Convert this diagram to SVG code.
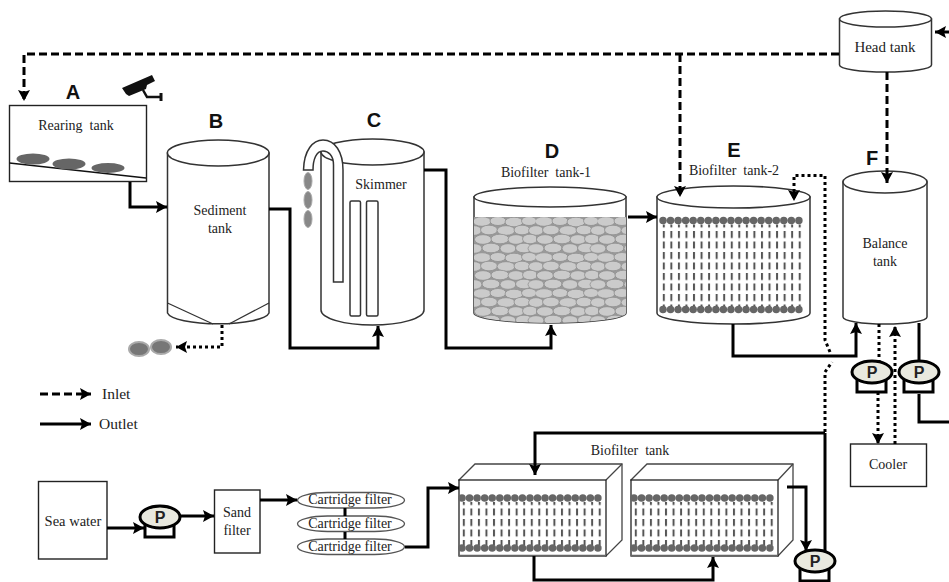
<svg xmlns="http://www.w3.org/2000/svg" width="949" height="582" viewBox="0 0 949 582">
<style>
text{font-family:"Liberation Serif","Times New Roman",serif;font-size:14px;fill:#222;text-anchor:middle;white-space:pre}
.big{font-family:"Liberation Sans",Arial,sans-serif;font-weight:bold;font-size:20px;fill:#111}
.pl{font-family:"Liberation Sans",Arial,sans-serif;font-weight:bold;font-size:16px;fill:#222}
.leg{font-size:15.5px;text-anchor:start}
.tk{fill:#fff;stroke:#333;stroke-width:1.5}
.box{fill:#fff;stroke:#222;stroke-width:1.4}
.pb{fill:#fff;stroke:#000;stroke-width:3}
.pe{fill:#e9e9df;stroke:#000;stroke-width:3}
.sl,.da,.dt{fill:none;stroke:#000;stroke-width:3}
.sl{marker-end:url(#ah)}
.da{stroke-dasharray:8 4;marker-end:url(#ah)}
.dt{stroke-dasharray:3 3;marker-end:url(#ah)}
.plain{marker-end:none}
.fish{fill:#666}
.drip{fill:#888;stroke:#aaa;stroke-width:1}
.mdot{fill:none;stroke:#666;stroke-width:7.5;stroke-linecap:round;stroke-dasharray:0 7.55}
.base{fill:none;stroke:#666;stroke-width:1.5}
</style>
<defs>
<marker id="ah" markerUnits="userSpaceOnUse" markerWidth="13" markerHeight="12" refX="11" refY="6" orient="auto"><path d="M0 0L11 6L0 12L2 6Z" fill="#000"/></marker>
<pattern id="stones" patternUnits="userSpaceOnUse" x="474" y="217" width="62" height="36">
<rect width="62" height="36" fill="#999"/>
<g fill="#cbcbcb" stroke="#888" stroke-width="0.7">
<ellipse cx="8" cy="4.500" rx="9" ry="4.800"/><ellipse cx="24" cy="4" rx="8" ry="4.500"/><ellipse cx="40" cy="5" rx="9" ry="4.800"/><ellipse cx="55" cy="4" rx="7.500" ry="4.500"/>
<ellipse cx="0" cy="13.500" rx="7.500" ry="4.800"/><ellipse cx="15" cy="13" rx="8.500" ry="4.800"/><ellipse cx="32" cy="13.500" rx="9" ry="4.800"/><ellipse cx="48" cy="13" rx="8" ry="4.800"/><ellipse cx="62" cy="13.500" rx="7.500" ry="4.800"/>
<ellipse cx="9" cy="22.500" rx="8.500" ry="4.800"/><ellipse cx="26" cy="22" rx="9" ry="4.800"/><ellipse cx="42" cy="22.500" rx="8" ry="4.800"/><ellipse cx="56" cy="22" rx="7.500" ry="4.800"/>
<ellipse cx="0" cy="31.500" rx="8" ry="4.800"/><ellipse cx="17" cy="31" rx="9" ry="4.800"/><ellipse cx="34" cy="31.500" rx="8" ry="4.800"/><ellipse cx="50" cy="31" rx="8.500" ry="4.800"/><ellipse cx="62" cy="31.500" rx="8" ry="4.800"/>
</g>
</pattern>
<pattern id="strand" patternUnits="userSpaceOnUse" width="7.55" height="10.500">
<rect x="2.800" y="0" width="2" height="7" fill="#555"/>
</pattern>
<clipPath id="stoneclip"><path d="M474 217H626V313A76 10 0 0 1 474 313Z"/></clipPath>
<g id="membrane">
<rect x="2" y="4" width="143" height="84" fill="url(#strand)"/>
<path class="mdot" d="M3 0H146"/>
<path class="mdot" d="M3 89H146"/>
</g>
<g id="membrane-short">
<rect x="0" y="4" width="143" height="43" fill="url(#strand)"/>
<path class="mdot" d="M2 0H145"/>
<path class="mdot" d="M2 50H145"/>
</g>
<g id="pump">
<rect class="pb" x="-15" y="0" width="29" height="20"/>
<ellipse class="pe" cx="0" cy="0" rx="20" ry="11"/>
<text class="pl" x="0" y="6">P</text>
</g>
</defs>

<g id="rearing-tank">
<rect class="box" x="9.500" y="105.500" width="137" height="76"/>
<path d="M9.500 163L146 178" stroke="#111" stroke-width="1.400" fill="none"/>
<ellipse class="fish" cx="33" cy="159" rx="16.500" ry="5.500"/>
<ellipse class="fish" cx="69" cy="164" rx="16.500" ry="5.500"/>
<ellipse class="fish" cx="108" cy="168" rx="16.500" ry="5"/>
<text x="76" y="130">Rearing  tank</text>
<text class="big" x="73" y="99">A</text>
<path d="M122 88L152 75L155 81L147 85L146 89L129 96L126 94Z" fill="#111"/>
<path d="M143 90L147 97H160" fill="none" stroke="#111" stroke-width="2.500"/>
<path d="M161 93V101" fill="none" stroke="#111" stroke-width="3"/>
</g>

<g id="sediment-tank">
<path class="tk" d="M167.500 153V313A51 12 0 0 0 269 313V153Z"/>
<ellipse class="tk" cx="218.200" cy="153" rx="50.800" ry="13"/>
<path d="M167.500 303L213 324M269 303L229 324" fill="none" stroke="#333" stroke-width="1.300"/>
<text x="220" y="215">Sediment</text>
<text x="220" y="233">tank</text>
<text class="big" x="216" y="128">B</text>
</g>

<g id="skimmer">
<path class="tk" d="M321 152V310A51.500 15 0 0 0 424 310V152Z"/>
<ellipse class="tk" cx="372.500" cy="152" rx="51.500" ry="13"/>
<path class="tk" d="M303.500 170C304 150 313 140 323 140C335 140 343 152 343 170V282H333.500V165C333.500 155 328 151 323 151C316 151 313 160 313 170Z"/>
<rect class="tk" x="350" y="201" width="10.500" height="115" rx="1.500"/>
<rect class="tk" x="366.500" y="201" width="11.500" height="115" rx="1.500"/>
<ellipse class="drip" cx="308" cy="181" rx="4" ry="8.500"/>
<ellipse class="drip" cx="308" cy="200" rx="4" ry="8.500"/>
<ellipse class="drip" cx="308" cy="219" rx="4" ry="8.500"/>
<text x="381" y="189">Skimmer</text>
<text class="big" x="374" y="127">C</text>
</g>

<g id="biofilter-1">
<path class="tk" d="M474 197V313A76 10 0 0 0 626 313V197Z"/>
<rect x="474" y="217" width="152" height="108" fill="url(#stones)" clip-path="url(#stoneclip)"/>
<ellipse class="tk" cx="550" cy="197" rx="76" ry="10"/>
<text x="546" y="177">Biofilter  tank-1</text>
<text class="big" x="552" y="158">D</text>
</g>

<g id="biofilter-2">
<path class="tk" d="M657 197V313A76.500 11 0 0 0 810 313V197Z"/>
<ellipse class="tk" cx="733.500" cy="197" rx="76.500" ry="11"/>
<use href="#membrane" x="660" y="220.500"/>
<text x="734" y="175">Biofilter  tank-2</text>
<text class="big" x="734" y="157">E</text>
</g>

<g id="balance-tank">
<path class="tk" d="M843 182V317A42 7 0 0 0 927 317V182Z"/>
<ellipse class="tk" cx="885" cy="182" rx="42" ry="11"/>
<text x="885" y="248">Balance</text>
<text x="885" y="266">tank</text>
<text class="big" x="872" y="165">F</text>
</g>

<g id="head-tank">
<path class="tk" d="M839.500 19V65A46 7 0 0 0 931.500 65V19Z"/>
<ellipse class="tk" cx="885.500" cy="19" rx="46" ry="8"/>
<text x="885" y="52" style="font-size:15px">Head tank</text>
</g>

<g id="cooler">
<rect class="box" x="850.500" y="444" width="76" height="42.500"/>
<text x="888" y="469">Cooler</text>
</g>

<g id="sea-water">
<rect class="box" x="38.500" y="481.500" width="68.500" height="77.500"/>
<text x="73" y="526" style="font-size:14.500px">Sea water</text>
</g>

<g id="sand-filter">
<rect class="box" x="214.500" y="490" width="45.500" height="63"/>
<text x="237" y="517">Sand</text>
<text x="237" y="535">filter</text>
</g>

<g id="cartridge-1">
<rect x="297.500" y="492.500" width="107" height="15.500" rx="30" ry="7.750" fill="#fff" stroke="#555" stroke-width="1.300"/>
<text x="350" y="504">Cartridge filter</text>
</g>
<g id="cartridge-2">
<rect x="297.500" y="516" width="107" height="15.500" rx="30" ry="7.750" fill="#fff" stroke="#555" stroke-width="1.300"/>
<text x="350" y="527.500">Cartridge filter</text>
</g>
<g id="cartridge-3">
<rect x="297.500" y="539" width="107" height="15.500" rx="30" ry="7.750" fill="#fff" stroke="#555" stroke-width="1.300"/>
<text x="350" y="551">Cartridge filter</text>
</g>

<g id="biofilter-tank-a">
<path d="M459 480L475 464H622V540L606 556Z" fill="#fff" stroke="#444" stroke-width="1.300"/>
<path d="M606 480L622 464" stroke="#444" stroke-width="1.300" fill="none"/>
<rect x="459" y="480" width="147" height="76" fill="#fff" stroke="#222" stroke-width="1.300"/>
<use href="#membrane-short" x="460" y="498"/>
<path class="base" d="M459 555.500H606"/>
</g>
<g id="biofilter-tank-b">
<path d="M631 480L647 464H793V540L778 556Z" fill="#fff" stroke="#444" stroke-width="1.300"/>
<path d="M778 480L793 464" stroke="#444" stroke-width="1.300" fill="none"/>
<rect x="631" y="480" width="147" height="76" fill="#fff" stroke="#222" stroke-width="1.300"/>
<use href="#membrane-short" x="632" y="498"/>
<path class="base" d="M631 555.500H778"/>
</g>
<text x="630" y="455">Biofilter  tank</text>

<g id="legend">
<path class="da" d="M40 394H91"/>
<text class="leg" x="102" y="399">Inlet</text>
<path class="sl" d="M40 424H91"/>
<text class="leg" x="99" y="429">Outlet</text>
</g>

<g id="sludge">
<ellipse cx="139" cy="349" rx="10" ry="7" fill="#777" stroke="#aaa" stroke-width="2"/>
<ellipse cx="161" cy="347" rx="10" ry="7" fill="#777" stroke="#aaa" stroke-width="2"/>
</g>

<g id="connectors">
<path class="da" d="M839 54H24V101"/>
<path class="da" d="M680 54V197"/>
<path class="da" d="M887 72V183"/>
<path class="sl" d="M949 32H935"/>
<path class="sl" d="M130 182V207H167"/>
<path class="sl" d="M269 209H290V348H378V326"/>
<path class="sl" d="M424 170H446V348H551V325"/>
<path class="sl" d="M628 217H657"/>
<path class="sl" d="M733 324V356H856V323"/>
<path class="dt" d="M222 325V347H176"/>
<path class="dt plain" d="M825 432V372L832 362"/>
<path class="dt" d="M830 352L825 340V175.500H794V201"/>
<path class="dt plain" d="M879 324V361"/>
<path class="dt" d="M878 392V444"/>
<path class="dt" d="M895 444V326"/>
<path class="sl plain" d="M919 323V361"/>
<path class="sl plain" d="M919 394V422H949"/>
<path class="sl plain" d="M825 552V433"/>
<path class="sl" d="M825 433H535V475"/>
<path class="sl" d="M787 487H806V551"/>
<path class="sl" d="M534 556V580H713V557"/>
<path class="sl" d="M405 547H428V488H459"/>
<path class="sl" d="M107 528H144"/>
<path class="sl" d="M180 516H214"/>
<path class="sl" d="M260 500H297"/>
<path class="sl plain" d="M345 508V516M345 532V539"/>
</g>

<use id="pump-seawater" href="#pump" x="160" y="517"/>
<use id="pump-cooler" href="#pump" x="872" y="372"/>
<use id="pump-out" href="#pump" x="919" y="372"/>
<use id="pump-bio" href="#pump" x="815" y="561"/>
</svg>
